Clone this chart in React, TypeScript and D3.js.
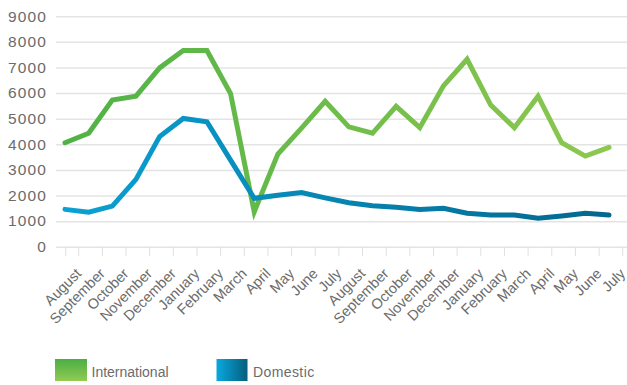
import React from "react";
import * as d3 from "d3";

// Month labels along the x axis (two consecutive years, Aug → Jul)
const months: string[] = [
  "August", "September", "October", "November", "December", "January",
  "February", "March", "April", "May", "June", "July",
  "August", "September", "October", "November", "December", "January",
  "February", "March", "April", "May", "June", "July",
];

// Monthly passenger figures
const international: number[] = [
  4080, 4450, 5750, 5900, 7000, 7680, 7680, 6000, 1380, 3640, 4650, 5700,
  4700, 4450, 5500, 4670, 6300, 7340, 5550, 4670, 5900, 4080, 3560, 3900,
];
const domestic: number[] = [
  1480, 1370, 1610, 2650, 4320, 5030, 4900, 3400, 1910, 2030, 2140, 1930,
  1740, 1620, 1560, 1480, 1520, 1330, 1260, 1260, 1130, 1220, 1330, 1260,
];

const yTicks: number[] = [0, 1000, 2000, 3000, 4000, 5000, 6000, 7000, 8000, 9000];

const W = 627;
const H = 385;
const plotLeft = 56;
const plotRight = 627;
const FONT = "'Liberation Sans', Arial, Helvetica, sans-serif";
const TEXT = "#6b6b6b";

export default function App() {
  const x = d3.scaleLinear().domain([0, months.length - 1]).range([65, 609]);
  const y = d3.scaleLinear().domain([0, 9000]).range([247.3, 16.7]);
  const step = x(1) - x(0);
  const labelX = (i: number) => x(i) + step * 0.58;

  const line = d3
    .line<number>()
    .x((_, i) => x(i))
    .y((d) => y(d));

  return (
    <svg
      width={W}
      height={H}
      style={{ position: "absolute", left: 0, top: 0, background: "#fff" }}
    >
      <defs>
        <linearGradient id="gInt" gradientUnits="userSpaceOnUse" x1={plotLeft} y1={0} x2={plotRight} y2={0}>
          <stop offset="0%" stopColor="#4fb146" />
          <stop offset="100%" stopColor="#8fc94f" />
        </linearGradient>
        <linearGradient id="gDom" gradientUnits="userSpaceOnUse" x1={plotLeft} y1={0} x2={plotRight} y2={0}>
          <stop offset="0%" stopColor="#0aa2d6" />
          <stop offset="100%" stopColor="#03668b" />
        </linearGradient>
        <linearGradient id="lgInt" x1="0" y1="0" x2="0" y2="1">
          <stop offset="0%" stopColor="#4aae45" />
          <stop offset="100%" stopColor="#92cb52" />
        </linearGradient>
        <linearGradient id="lgDom" x1="0" y1="0" x2="1" y2="0">
          <stop offset="0%" stopColor="#0aa8de" />
          <stop offset="100%" stopColor="#055e7e" />
        </linearGradient>
      </defs>

      {/* horizontal grid */}
      {yTicks.map((t) => (
        <line
          key={`g${t}`}
          x1={plotLeft}
          x2={plotRight}
          y1={y(t)}
          y2={y(t)}
          stroke="#e4e4e4"
          strokeWidth={1.5}
        />
      ))}

      {/* y-axis labels */}
      {yTicks.map((t) => (
        <text
          key={`y${t}`}
          x={47}
          y={y(t) + 4.8}
          textAnchor="end"
          fontFamily={FONT}
          fontSize={15.5}
          letterSpacing={1.1}
          fill={TEXT}
        >
          {t}
        </text>
      ))}

      {/* x-axis tick marks */}
      <line x1={x(0) + 0.7} x2={x(0) + 0.7} y1={247.5} y2={256} stroke="#e0e0e0" strokeWidth={1} />
      {months.map((_, i) => (
        <line
          key={`t${i}`}
          x1={labelX(i)}
          x2={labelX(i)}
          y1={247.5}
          y2={256}
          stroke="#e0e0e0"
          strokeWidth={1}
        />
      ))}

      {/* x-axis labels */}
      {months.map((m, i) => (
        <text
          key={`x${i}`}
          transform={`translate(${labelX(i) + 3.5},${274.5}) rotate(-45)`}
          textAnchor="end"
          fontFamily={FONT}
          fontSize={14.5}
          fill={TEXT}
        >
          {m}
        </text>
      ))}

      {/* series */}
      <path
        d={line(international) ?? ""}
        fill="none"
        stroke="url(#gInt)"
        strokeWidth={5}
        strokeLinejoin="miter"
        strokeMiterlimit={10}
        strokeLinecap="round"
      />
      <path
        d={line(domestic) ?? ""}
        fill="none"
        stroke="url(#gDom)"
        strokeWidth={5}
        strokeLinejoin="miter"
        strokeMiterlimit={10}
        strokeLinecap="round"
      />

      {/* legend */}
      <rect x={55} y={359} width={32} height={22} fill="url(#lgInt)" />
      <text x={91.5} y={376.5} fontFamily={FONT} fontSize={14} fill={TEXT}>
        International
      </text>
      <rect x={216.5} y={359} width={31} height={22} fill="url(#lgDom)" />
      <text x={253} y={376.5} fontFamily={FONT} fontSize={14} letterSpacing={0.4} fill={TEXT}>
        Domestic
      </text>
    </svg>
  );
}
